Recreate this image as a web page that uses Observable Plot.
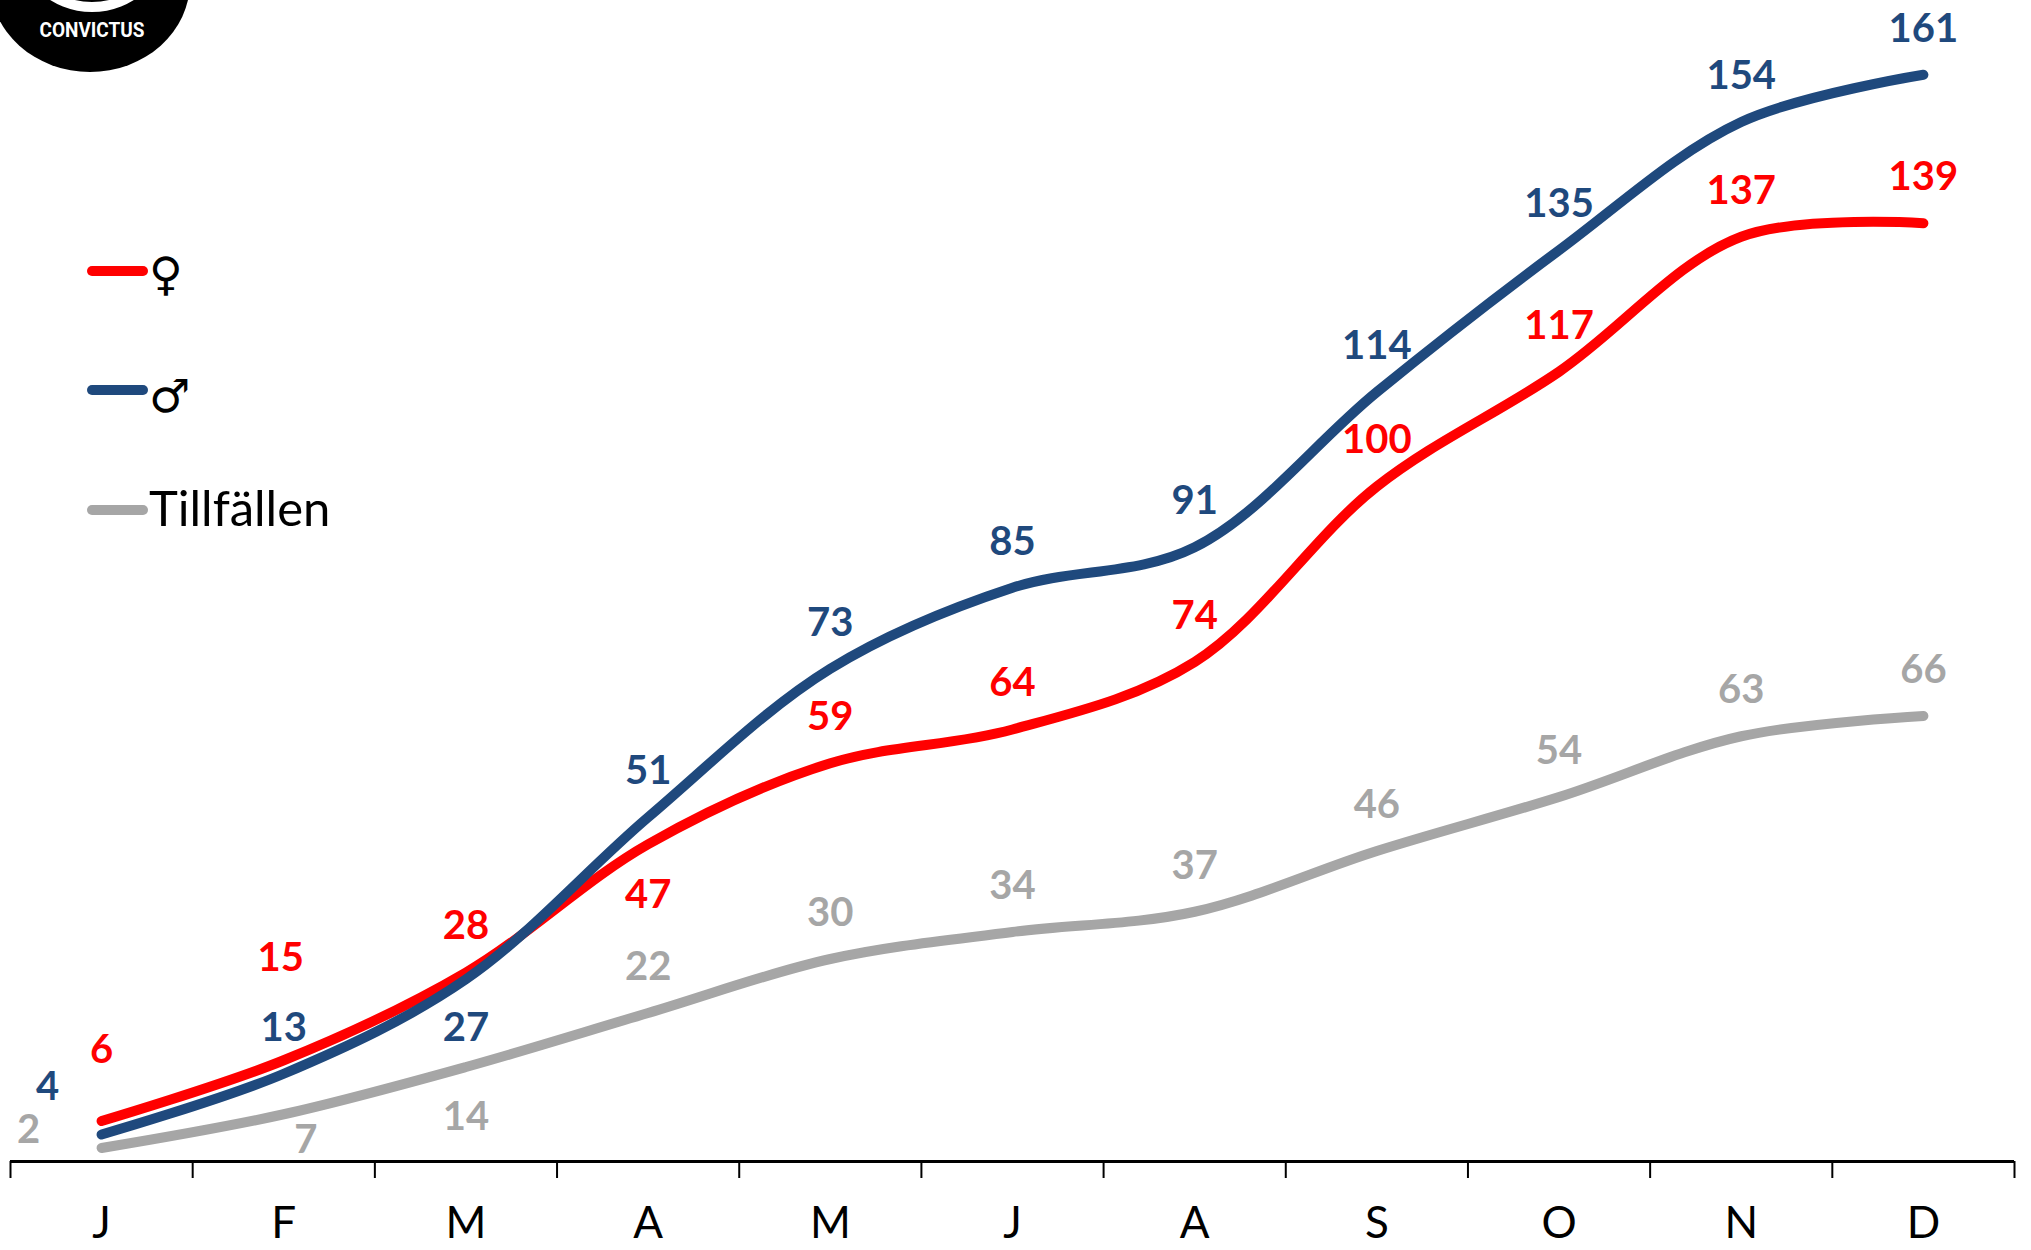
<!DOCTYPE html>
<html>
<head>
<meta charset="utf-8">
<script src="https://cdn.jsdelivr.net/npm/d3@7"></script>
<script src="https://cdn.jsdelivr.net/npm/@observablehq/plot@0.6"></script>
<style>
  html, body { margin: 0; padding: 0; background: #fff; }
  #wrap { position: relative; width: 2031px; height: 1250px; overflow: hidden; font-family: Lato, "Open Sans", sans-serif; }
  #chart { position: absolute; left: 0; top: 0; }
  .overlay { position: absolute; left: 0; top: 0; pointer-events: none; }
</style>
</head>
<body>
<div id="wrap">
  <div id="chart"></div>
  <svg class="overlay" id="logo" width="260" height="120"></svg>
  <svg class="overlay" id="legend" width="420" height="600"></svg>
</div>
<script>
// ---- data ----
const months = ["J", "F", "M", "A", "M", "J", "A", "S", "O", "N", "D"];
const female = [6, 15, 28, 47, 59, 64, 74, 100, 117, 137, 139];
const male = [4, 13, 27, 51, 73, 85, 91, 114, 135, 154, 161];
const occasions = [2, 7, 14, 22, 30, 34, 37, 46, 54, 63, 66];
const seriesNames = ["♀", "♂", "Tillfällen"];

// ---- styling / layout ----
const colors = { "♀": "#FF0000", "♂": "#1F497D", "Tillfällen": "#A6A6A6" };
const defaultNudge = [0, -46];
const labelNudge = {
  "♀": { 0: [0, -71], 1: [-3, -102], 3: [0, 51] },
  "♂": { 0: [-54, -47], 2: [0, 49] },
  "Tillfällen": { 0: [-73, -18], 1: [22, 26], 2: [0, 50] }
};

const seriesValues = { "♀": female, "♂": male, "Tillfällen": occasions };
const rows = [];
seriesNames.forEach(name => {
  seriesValues[name].forEach((v, i) => {
    const n = (labelNudge[name] && labelNudge[name][i]) || defaultNudge;
    rows.push({ series: name, i, value: v, dx: n[0], dy: n[1], key: name + "|" + n[0] + "|" + n[1] });
  });
});

const boundaries = d3.range(months.length + 1).map(k => k - 0.5);
const fontFamily = 'Lato, "Open Sans", sans-serif';

const lineMarks = ["Tillfällen", "♀", "♂"].map(name =>
  Plot.line(rows.filter(d => d.series === name), {
    x: "i", y: "value", stroke: colors[name], strokeWidth: 10,
    strokeLinecap: "round", strokeLinejoin: "round", curve: "catmull-rom"
  })
);

const groups = d3.groups(rows, d => d.key);
const labelMarks = groups.map(([key, g]) =>
  Plot.text(g, {
    x: "i", y: "value", text: d => String(d.value),
    fill: colors[g[0].series], dx: g[0].dx, dy: g[0].dy,
    fontSize: 40, fontWeight: "bold", lineAnchor: "middle", textAnchor: "middle"
  })
);

const chart = Plot.plot({
  width: 2031,
  height: 1250,
  marginLeft: 10,
  marginRight: 17,
  marginTop: 13.5,
  marginBottom: 89,
  style: { fontFamily, background: "white" },
  x: { type: "linear", domain: [-0.5, months.length - 0.5], axis: null, label: null },
  y: { domain: [0, 170], axis: null, label: null },
  marks: [
    Plot.axisX({ ticks: boundaries, tickSize: 17, tickFormat: () => "", strokeWidth: 2, stroke: "#000", label: null }),
    Plot.axisX({ ticks: d3.range(months.length), tickSize: 0, tickPadding: 45, tickFormat: i => months[i],
                 fontSize: 44, fill: "#000", label: null }),
    ...lineMarks,
    Plot.ruleY([0], { stroke: "#000", strokeWidth: 3 }),
    ...labelMarks
  ]
});
document.getElementById("chart").appendChild(chart);

// ---- logo (top-left, partially cut off) ----
const logo = d3.select("#logo");
logo.append("ellipse").attr("cx", 90).attr("cy", -18).attr("rx", 100).attr("ry", 90).attr("fill", "#000");
logo.append("circle").attr("cx", 92).attr("cy", -67).attr("r", 74).attr("fill", "none")
  .attr("stroke", "#fff").attr("stroke-width", 10);
logo.append("text").attr("x", 92).attr("y", 37).attr("text-anchor", "middle")
  .attr("fill", "#fff").attr("font-family", '"Liberation Sans Narrow", "Roboto", sans-serif')
  .attr("font-weight", "bold").attr("font-size", 21).attr("textLength", 105)
  .attr("lengthAdjust", "spacingAndGlyphs").text("CONVICTUS");

// ---- legend ----
const legend = d3.select("#legend");
const legendItems = [
  { name: "♀", y: 271, font: 'DejaVu Sans, sans-serif', size: 46, ty: 290 },
  { name: "♂", y: 390, font: 'DejaVu Sans, sans-serif', size: 46, ty: 412 },
  { name: "Tillfällen", y: 510, font: fontFamily, size: 49, ty: 526 }
];
legendItems.forEach(it => {
  legend.append("line").attr("x1", 92).attr("x2", 143).attr("y1", it.y).attr("y2", it.y)
    .attr("stroke", colors[it.name]).attr("stroke-width", 10).attr("stroke-linecap", "round");
  legend.append("text").attr("x", 149).attr("y", it.ty).attr("fill", "#000")
    .attr("font-family", it.font).attr("font-size", it.size).text(it.name);
});
</script>
</body>
</html>
